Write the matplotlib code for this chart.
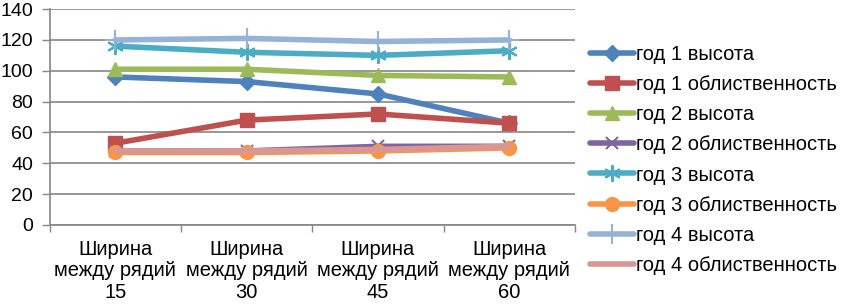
import matplotlib
matplotlib.use("Agg")
import matplotlib.pyplot as plt
import numpy as np

categories = ["Ширина\nмежду рядий\n15", "Ширина\nмежду рядий\n30",
              "Ширина\nмежду рядий\n45", "Ширина\nмежду рядий\n60"]
series_names = ["год 1 высота", "год 1 облиственность", "год 2 высота",
                "год 2 облиственность", "год 3 высота", "год 3 облиственность",
                "год 4 высота", "год 4 облиственность"]
y1_h = [96, 93, 85, 66]
y1_f = [53, 68, 72, 66]
y2_h = [101, 101, 97, 96]
y2_f = [48, 48, 51, 51]
y3_h = [116, 112, 110, 113]
y3_f = [47, 47, 48, 50]
y4_h = [120, 121, 119, 120]
y4_f = [48, 48, 49, 51]
values = [y1_h, y1_f, y2_h, y2_f, y3_h, y3_f, y4_h, y4_f]
colors = ["#4F81BD", "#C0504D", "#9BBB59", "#8064A2", "#4BACC6", "#F79646", "#95B3D7", "#D99694"]
markers = ["D", "s", "^", "x", (6, 2, 0), "o", "+", None]
msizes = [8, 10, 10, 9, 12, 10, 14, 0]

plt.rcParams['font.family'] = ['Liberation Sans', 'DejaVu Sans']
fig = plt.figure(figsize=(8.43, 3.04), dpi=100)
ax = fig.add_axes([0.059, 0.26, 0.623, 0.71])
x = np.arange(len(categories))
for vals, name, c, m, ms in zip(values, series_names, colors, markers, msizes):
    kw = dict(color=c, lw=4, label=name, solid_capstyle='round')
    if m is not None:
        kw.update(marker=m, markersize=ms, markeredgecolor=c, markerfacecolor=c,
                  markeredgewidth=1.5 if m in ("x", "+", (6, 2, 0)) else 1)
    ax.plot(x, vals, **kw)

ax.set_xlim(-0.5, len(categories) - 0.5)
ax.set_ylim(0, 140)
ax.set_yticks(range(0, 141, 20))
ax.yaxis.grid(True, color="#868686", lw=1.2)
ax.set_axisbelow(True)
ax.set_xticks(x)
ax.set_xticklabels(categories, fontsize=14.5, linespacing=1.15)
ax.set_xticks(np.arange(-0.5, len(categories), 1), minor=True)
ax.tick_params(axis='x', which='major', length=0, pad=11)
ax.tick_params(axis='x', which='minor', length=5, color="#868686", width=1)
ax.tick_params(axis='y', length=6, color="#868686", width=1, labelsize=14, pad=6)
for s in ['top', 'right']:
    ax.spines[s].set_visible(False)
for s in ['left', 'bottom']:
    ax.spines[s].set_color("#868686")
    ax.spines[s].set_linewidth(1.2)

leg = ax.legend(loc='upper left', bbox_to_anchor=(1.013, 0.87), frameon=False,
                fontsize=14.5, handlelength=2.2, handletextpad=0.1,
                labelspacing=0.55, borderaxespad=0)
fig.savefig("out.png", dpi=100)
